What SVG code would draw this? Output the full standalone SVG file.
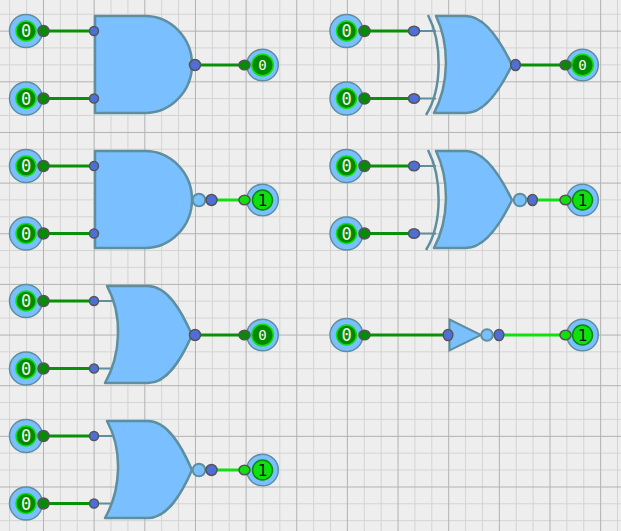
<svg xmlns="http://www.w3.org/2000/svg" xmlns:xlink="http://www.w3.org/1999/xlink" width="621" height="531" viewBox="0 0 621 531">
<style>
.b{fill:#7abfff;stroke:#5d8fa0;stroke-width:2.500;stroke-linejoin:round}
.bb{fill:#7abfff;stroke:#5d8fa0;stroke-width:2}
.sh{fill:none;stroke:#5d8fa0;stroke-width:2.500}
.io{fill:#7abfff;stroke:#5d8fa0;stroke-width:1.500}
.l0{fill:#008a00;stroke:#10e010;stroke-width:1.500}
.l1{fill:#10e010;stroke:#0a8a0a;stroke-width:1.500}
.pg{fill:#088a08;stroke:#555;stroke-width:1.500}
.pb{fill:#10e010;stroke:#555;stroke-width:1.500}
.pp{fill:#4f6fd8;stroke:#555;stroke-width:1.500}
.w0{fill:none;stroke:#089008;stroke-width:3}
.w1{fill:none;stroke:#10e010;stroke-width:3}
.st{fill:none;stroke:#5d8fa0;stroke-width:2}
.t{font-family:"DejaVu Sans Mono",monospace;text-anchor:middle}
.t0{fill:#f4f8e8;font-size:17px}
.t0s{fill:#f4f8e8;font-size:14px}
.t1{fill:#111;font-size:16px}
</style>
<defs>
<path id="and" class="b" d="M95 16H145C171 16 192 38 192 64.500C192 91 171 113 145 113H95Z"/>
<path id="or" class="b" d="M107 16H148C167 16 181 40 192 65C181 90 167 113 148 113H105C121 85 123 45 107 16Z"/>
<path id="xor" class="b" d="M436 16H466C484 16 500 40 512 65C500 90 484 113 466 113H434C449 85 450 45 436 16Z"/>
<path id="shield" class="sh" d="M428 15C442 42 443 88 426 115"/>
<g id="in0"><circle class="io" r="16.500"/><circle class="l0" r="10"/><text class="t t0" y="6">0</text></g>
<g id="out0"><circle class="io" r="15.800"/><circle class="l0" r="10.800"/><text class="t t0s" y="5">0</text></g>
<g id="out1"><circle class="io" r="15.800"/><circle class="l1" r="10"/><text class="t t1" y="6">1</text></g>
</defs>
<rect width="621" height="531" fill="#eeeeee"/>
<g id="grid" fill="none">
<path stroke="#d4d4d4" stroke-width="1" d="M9.620 0V531M26.620 0V531M60.380 0V531M77.270 0V531M111.030 0V531M127.920 0V531M161.680 0V531M178.570 0V531M212.330 0V531M229.220 0V531M262.980 0V531M279.870 0V531M313.630 0V531M330.520 0V531M364.280 0V531M381.170 0V531M414.930 0V531M431.820 0V531M465.580 0V531M482.470 0V531M516.230 0V531M533.120 0V531M566.880 0V531M583.770 0V531M617.530 0V531M0 14.270H621M0 47.900H621M0 64.800H621M0 98.550H621M0 115.450H621M0 149.200H621M0 166.100H621M0 199.850H621M0 216.750H621M0 250.500H621M0 267.400H621M0 301.150H621M0 318.050H621M0 351.800H621M0 368.700H621M0 402.450H621M0 419.350H621M0 453.100H621M0 470H621M0 503.750H621M0 520.650H621"/>
<path stroke="#b2b2b2" stroke-width="1" d="M43.500 0V531M94.150 0V531M144.800 0V531M195.450 0V531M246.100 0V531M296.750 0V531M347.400 0V531M398.050 0V531M448.700 0V531M499.350 0V531M550 0V531M600.650 0V531M0 31.150H621M0 81.800H621M0 132.450H621M0 183.100H621M0 233.750H621M0 284.400H621M0 335.050H621M0 385.700H621M0 436.350H621M0 487H621"/>
</g>
<g id="connectors">
<path class="w0" d="M43 31H94M43 98.500H94M195 65H244"/>
<path class="w0" d="M43 166H94M43 233.500H94"/>
<path class="w1" d="M211.500 200H244"/>
<path class="w0" d="M43 301H94M43 368.500H94M195 335H244"/>
<path class="st" d="M94 301H115M94 368.500H115"/>
<path class="w0" d="M43 436H94M43 503.500H94"/>
<path class="st" d="M94 436H115M94 503.500H115"/>
<path class="w1" d="M211.500 470H244"/>
<path class="st" d="M414 31H436M414 98.500H436M414 166H436M414 233.500H436"/>
<path class="w0" d="M364 31H414M364 98.500H414M515 65H565"/>
<path class="w0" d="M364 166H414M364 233.500H414"/>
<path class="w1" d="M532 200H565"/>
<path class="w0" d="M364 335H448"/>
<path class="w1" d="M499 335H565"/>
</g>
<g id="gate-and">
<use href="#and"/><circle class="pp" cx="94" cy="31" r="4.500"/><circle class="pp" cx="94" cy="98.500" r="4.500"/><circle class="pp" cx="195" cy="65" r="5.500"/>
</g>
<g id="gate-nand">
<use href="#and" y="135"/><circle class="pp" cx="94" cy="166" r="4.500"/><circle class="pp" cx="94" cy="233.500" r="4.500"/><circle class="bb" cx="199" cy="200" r="6.300"/><circle class="pp" cx="211.500" cy="200" r="5.500"/>
</g>
<g id="gate-or">
<use href="#or" y="270"/><circle class="pp" cx="94" cy="301" r="4.500"/><circle class="pp" cx="94" cy="368.500" r="4.500"/><circle class="pp" cx="195" cy="335" r="5.500"/>
</g>
<g id="gate-nor">
<use href="#or" y="405"/><circle class="pp" cx="94" cy="436" r="4.500"/><circle class="pp" cx="94" cy="503.500" r="4.500"/><circle class="bb" cx="199" cy="470" r="6.300"/><circle class="pp" cx="211.500" cy="470" r="5.500"/>
</g>
<g id="gate-xor">
<use href="#xor"/><use href="#shield"/><ellipse class="pp" cx="414" cy="31" rx="5.500" ry="4.800"/><ellipse class="pp" cx="414" cy="98.500" rx="5.500" ry="4.800"/><ellipse class="pp" cx="515.500" cy="65" rx="4.800" ry="5.500"/>
</g>
<g id="gate-xnor">
<use href="#xor" y="135"/><use href="#shield" y="135"/><ellipse class="pp" cx="414" cy="166" rx="5.500" ry="4.800"/><ellipse class="pp" cx="414" cy="233.500" rx="5.500" ry="4.800"/><circle class="bb" cx="520" cy="200" r="6.300"/><ellipse class="pp" cx="532.500" cy="200" rx="4.800" ry="5.500"/>
</g>
<g id="gate-not">
<path class="bb" d="M449.500 319.500L481 335L449.500 350.500Z"/><ellipse class="pp" cx="448" cy="335" rx="4.800" ry="5.500"/><circle class="bb" cx="487" cy="335" r="5.800"/><ellipse class="pp" cx="499" cy="335" rx="4.800" ry="5.500"/>
</g>
<g id="in-1"><use href="#in0" x="26" y="31"/><circle class="pg" cx="43.500" cy="31" r="5.500"/></g>
<g id="in-2"><use href="#in0" x="26" y="98.500"/><circle class="pg" cx="43.500" cy="98.500" r="5.500"/></g>
<g id="in-3"><use href="#in0" x="26" y="166"/><circle class="pg" cx="43.500" cy="166" r="5.500"/></g>
<g id="in-4"><use href="#in0" x="26" y="233.500"/><circle class="pg" cx="43.500" cy="233.500" r="5.500"/></g>
<g id="in-5"><use href="#in0" x="26" y="301"/><circle class="pg" cx="43.500" cy="301" r="5.500"/></g>
<g id="in-6"><use href="#in0" x="26" y="368.500"/><circle class="pg" cx="43.500" cy="368.500" r="5.500"/></g>
<g id="in-7"><use href="#in0" x="26" y="436"/><circle class="pg" cx="43.500" cy="436" r="5.500"/></g>
<g id="in-8"><use href="#in0" x="26" y="503.500"/><circle class="pg" cx="43.500" cy="503.500" r="5.500"/></g>
<g id="in-9"><use href="#in0" x="346.500" y="31"/><circle class="pg" cx="364.500" cy="31" r="5.500"/></g>
<g id="in-10"><use href="#in0" x="346.500" y="98.500"/><circle class="pg" cx="364.500" cy="98.500" r="5.500"/></g>
<g id="in-11"><use href="#in0" x="346.500" y="166"/><circle class="pg" cx="364.500" cy="166" r="5.500"/></g>
<g id="in-12"><use href="#in0" x="346.500" y="233.500"/><circle class="pg" cx="364.500" cy="233.500" r="5.500"/></g>
<g id="in-13"><use href="#in0" x="346.500" y="335"/><ellipse class="pg" cx="364.500" cy="335" rx="5.500" ry="4.800"/></g>
<g id="out-1"><use href="#out0" x="262.500" y="65"/><ellipse class="pg" cx="244.500" cy="65" rx="5.500" ry="4.800"/></g>
<g id="out-2"><use href="#out1" x="262.500" y="200"/><ellipse class="pb" cx="244.500" cy="200" rx="5.500" ry="4.800"/></g>
<g id="out-3"><use href="#out0" x="262.500" y="335"/><ellipse class="pg" cx="244.500" cy="335" rx="5.500" ry="4.800"/></g>
<g id="out-4"><use href="#out1" x="262.500" y="470"/><ellipse class="pb" cx="244.500" cy="470" rx="5.500" ry="4.800"/></g>
<g id="out-5"><use href="#out0" x="582.500" y="65"/><ellipse class="pg" cx="565.500" cy="65" rx="5.500" ry="4.800"/></g>
<g id="out-6"><use href="#out1" x="582.500" y="200"/><ellipse class="pb" cx="565.500" cy="200" rx="5.500" ry="4.800"/></g>
<g id="out-7"><use href="#out1" x="582.500" y="335"/><ellipse class="pb" cx="565.500" cy="335" rx="5.500" ry="4.800"/></g>
</svg>
